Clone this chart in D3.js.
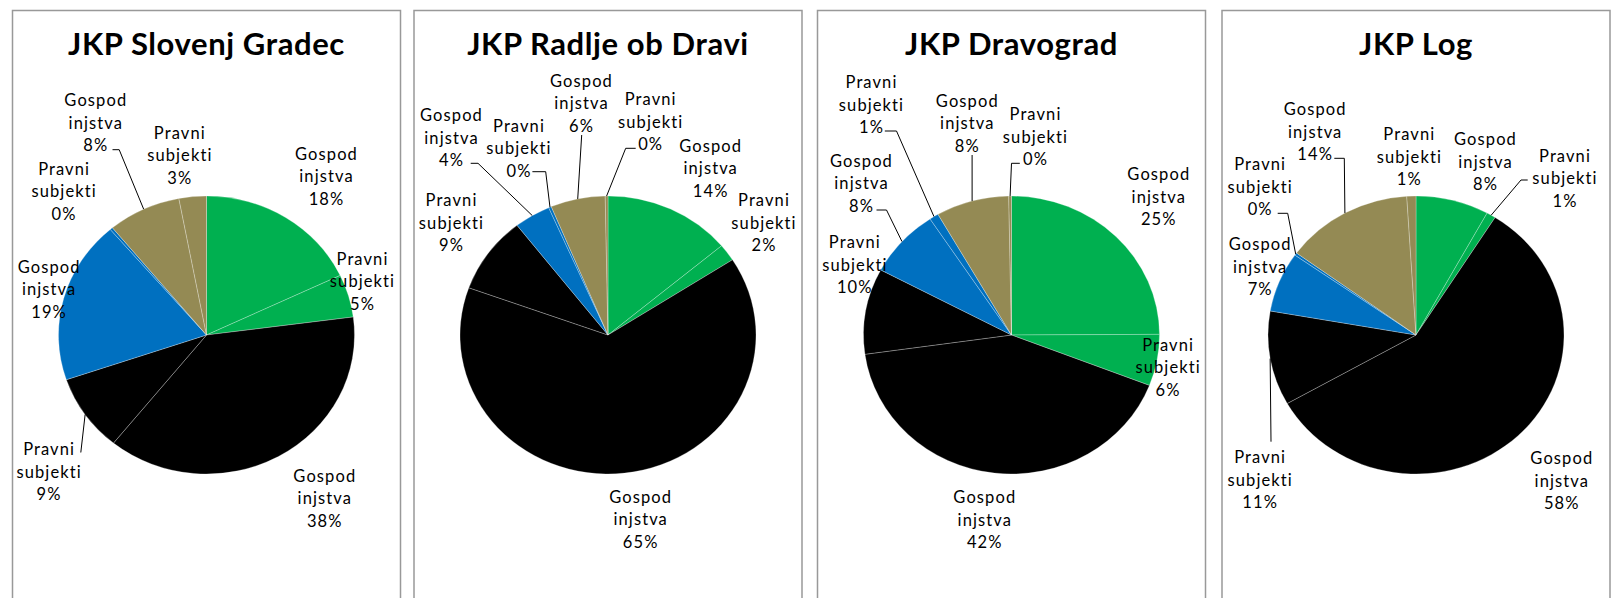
<!DOCTYPE html>
<html>
<head>
<meta charset="utf-8">
<script src="https://cdn.jsdelivr.net/npm/d3@7"></script>
<style>
  html, body { margin: 0; padding: 0; background: #fff; }
  svg { display: block; }
</style>
</head>
<body>
<svg id="chart" width="1612" height="598"></svg>
<script>
// ---------------- DATA ----------------
const panelTitles = ["JKP Slovenj Gradec", "JKP Radlje ob Dravi", "JKP Dravograd", "JKP Log"];
const categories = ["Gospodinjstva", "Pravni subjekti", "Gospodinjstva", "Pravni subjekti",
                    "Gospodinjstva", "Pravni subjekti", "Gospodinjstva", "Pravni subjekti"];
const categoryLines = { "Gospodinjstva": ["Gospod", "injstva"], "Pravni subjekti": ["Pravni", "subjekti"] };
const slovenjGradec = [18, 5, 38, 9, 19, 0.3, 8, 3];
const radljeObDravi = [14, 2, 65, 9, 4, 0.3, 6, 0.3];
const dravograd     = [25, 6, 42, 10, 8, 1, 8, 0.3];
const logValues     = [8, 1, 58, 11, 7, 0.3, 14, 1];
const panelValues = [slovenjGradec, radljeObDravi, dravograd, logValues];

// ---------------- STYLE / LAYOUT ----------------
const sliceColors = ["#00B050", "#00B050", "#000000", "#000000", "#0070C0", "#0070C0", "#948A54", "#948A54"];
const panelLeft = [12.5, 414, 817.5, 1222];
const panelWidth = 388;
const pieCy = 335, rx = 148, ry = 139;
// label centres relative to the pie centre
const labelLayout = [
  [[120,-158.5],[156,-53.5],[118.3,163.5],[-157.4,136.8],[-157.4,-45.5],[-142.4,-143.8],[-110.7,-212],[-26.7,-179.8]],
  [[102.7,-166.7],[156,-112.3],[32.7,184.3],[-156.5,-112.3],[-156.5,-197.3],[-89,-186.7],[-26.5,-231.7],[42.7,-213.3]],
  [[147.3,-138.3],[156.6,32.3],[-26.7,185],[-156.7,-70],[-150,-151.7],[-140,-230],[-44.2,-211.7],[24,-198.3]],
  [[69.5,-173.3],[149,-156.7],[145.8,145.7],[-155.8,145],[-155.8,-68.3],[-155.8,-148.3],[-100.8,-203.3],[-6.7,-178.3]]
];
// leader lines: slice index, start offset from label centre, horizontal elbow
const leaderLayout = [
  [{i:6, s:[16.7,26.7], e:6.7}, {i:3, s:[31.7,-19.3], e:0}],
  [{i:4, s:[19.2,25.6], e:7.3}, {i:5, s:[13.4,23.4], e:13.3}, {i:6, s:[0.2,31.7], e:0}, {i:7, s:[-15,26.6], e:-10}],
  [{i:4, s:[15,26.7], e:10}, {i:5, s:[13.3,26], e:11.7}, {i:6, s:[4.8,31.7], e:0}, {i:7, s:[-15.7,26.6], e:-8.3}],
  [{i:1, s:[-37.3,1.7], e:-6.7}, {i:3, s:[10.8,-38.3], e:0}, {i:5, s:[17.5,26.6], e:10}, {i:6, s:[19.1,26.6], e:10}]
];
const labelFont = 16.5, lineGap = 22.5;

const svg = d3.select("#chart");
const pie = d3.pie().sort(null).value(d => d);
const arc = d3.arc().innerRadius(0).outerRadius(rx);

panelValues.forEach((vals, p) => {
  const x0 = panelLeft[p];
  const cx = x0 + panelWidth / 2;
  const g = svg.append("g");
  g.append("rect")
    .attr("x", x0).attr("y", 10.5)
    .attr("width", panelWidth).attr("height", 700)
    .attr("fill", "#fff").attr("stroke", "#999999").attr("stroke-width", 1.5);

  g.append("text")
    .attr("x", cx).attr("y", 55)
    .attr("text-anchor", "middle")
    .attr("font-family", "Lato, 'Open Sans', sans-serif")
    .attr("font-weight", "bold")
    .attr("font-size", 31)
    .attr("letter-spacing", "0.6px")
    .attr("fill", "#000")
    .text(panelTitles[p]);

  const total = d3.sum(vals);
  const arcs = pie(vals);

  const pg = g.append("g").attr("transform", `translate(${cx},${pieCy}) scale(1,${ry / rx})`);
  pg.selectAll("path").data(arcs).join("path")
    .attr("d", arc)
    .attr("fill", (d, i) => sliceColors[i])
    .attr("stroke", "#ffffff")
    .attr("stroke-opacity", 0.55)
    .attr("stroke-width", 0.5);

  // leader lines
  leaderLayout[p].forEach(L => {
    const a = (arcs[L.i].startAngle + arcs[L.i].endAngle) / 2;
    const ex = cx + rx * Math.sin(a), ey = pieCy - ry * Math.cos(a);
    const [lx, ly] = labelLayout[p][L.i];
    const sx = cx + lx + L.s[0], sy = pieCy + ly + L.s[1];
    const pts = [[sx, sy]];
    if (L.e) pts.push([sx + L.e, sy]);
    pts.push([ex, ey]);
    g.append("path")
      .attr("d", d3.line()(pts))
      .attr("fill", "none").attr("stroke", "#000").attr("stroke-width", 1);
  });

  // labels
  arcs.forEach((d, i) => {
    const [lx, ly] = labelLayout[p][i];
    const lines = categoryLines[categories[i]].concat([Math.round(d.value / total * 100) + "%"]);
    const t = g.append("text")
      .attr("text-anchor", "middle")
      .attr("font-family", "Lato, 'Open Sans', sans-serif")
      .attr("font-size", labelFont)
      .attr("letter-spacing", "1.1px")
      .attr("fill", "#000");
    lines.forEach((ln, k) => {
      t.append("tspan")
        .attr("x", cx + lx)
        .attr("y", pieCy + ly + (k - 1) * lineGap + labelFont * 0.36)
        .text(ln);
    });
  });
});
</script>
</body>
</html>
